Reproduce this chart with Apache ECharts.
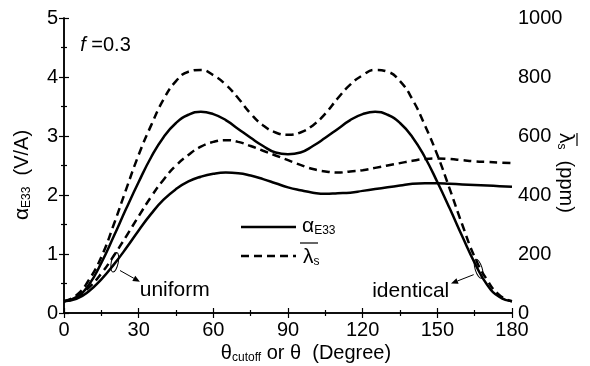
<!DOCTYPE html>
<html>
<head>
<meta charset="utf-8">
<script src="https://cdn.jsdelivr.net/npm/echarts@6/dist/echarts.min.js"></script>
<style>
html,body{margin:0;padding:0;background:#fff;}
#c{width:590px;height:366px;}
</style>
</head>
<body>
<div id="c"></div>
<script>
// ---- data ----
const theta = [0,5,10,15,20,25,30,35,40,45,50,55,60,65,70,75,80,85,90,95,100,105,110,115,120,125,130,135,140,145,150,155,160,165,170,175,180];
// alpha_E33 (V/A), identical orientation (symmetric)
const alphaIdentical = [0.2,0.27,0.48,0.85,1.3,1.77,2.22,2.64,2.98,3.22,3.36,3.41,3.37,3.27,3.12,2.97,2.83,2.72,2.69,2.72,2.83,2.97,3.12,3.27,3.37,3.41,3.36,3.22,2.98,2.64,2.22,1.77,1.3,0.85,0.48,0.27,0.2];
// alpha_E33 (V/A), uniform (cutoff)
const alphaUniform = [0.2,0.24,0.37,0.57,0.82,1.1,1.4,1.68,1.92,2.1,2.23,2.31,2.36,2.38,2.37,2.33,2.27,2.2,2.13,2.08,2.04,2.02,2.03,2.04,2.07,2.1,2.13,2.16,2.19,2.2,2.2,2.19,2.18,2.17,2.16,2.15,2.14];
// lambda_s (ppm), identical
const lambdaIdentical = [40,60,112,190,300,420,536,636,724,786,818,824,806,774,728,676,636,612,604,612,636,676,728,774,806,824,818,786,724,636,536,420,300,190,112,60,40];
// lambda_s (ppm), uniform
const lambdaUniform = [40,52,86,134,194,260,328,394,452,500,536,564,580,586,580,566,550,534,518,502,488,480,476,480,484,492,500,508,516,522,524,522,518,514,512,510,508];

const xTicks = {min:0, max:180, interval:30};
const yLeft = {min:0, max:5, interval:1};
const yRight = {min:0, max:1000, interval:200};

const FONT = '"Liberation Sans", Arial, Helvetica, sans-serif';
const pairs = (xs, ys) => xs.map((x,i)=>[x, ys[i]]);

const chart = echarts.init(document.getElementById('c'), null, {renderer:'canvas'});

const axisCommon = {
  axisLine:{show:true, lineStyle:{color:'#000', width:1.5}},
  axisTick:{show:true, inside:true, length:5, lineStyle:{color:'#000', width:1.2}},
  minorTick:{show:true, splitNumber:2, length:3, lineStyle:{color:'#000', width:1.2}},
  splitLine:{show:false},
  minorSplitLine:{show:false}
};
const lbl = {color:'#000', fontSize:20, fontFamily:FONT, formatter:v=>String(v)};

const solid = {color:'#000', width:2.5, type:'solid'};
const dashed = {color:'#000', width:2.5, type:[8,5]};

chart.setOption({
  animation:false,
  backgroundColor:'#fff',
  grid:{left:64, right:78, top:18, bottom:53},
  xAxis:[
    Object.assign({type:'value', position:'bottom', min:xTicks.min, max:xTicks.max, interval:xTicks.interval,
      axisLabel:Object.assign({margin:7}, lbl)}, axisCommon),
    Object.assign({type:'value', position:'top', min:xTicks.min, max:xTicks.max, interval:xTicks.interval,
      axisLabel:{show:false}}, axisCommon)
  ],
  yAxis:[
    Object.assign({type:'value', position:'left', min:yLeft.min, max:yLeft.max, interval:yLeft.interval,
      axisLabel:Object.assign({margin:6}, lbl)}, axisCommon),
    Object.assign({type:'value', position:'right', min:yRight.min, max:yRight.max, interval:yRight.interval,
      axisLabel:Object.assign({margin:6}, lbl)}, axisCommon)
  ],
  series:[
    {type:'line', name:'alphaIdentical', xAxisIndex:0, yAxisIndex:0, data:pairs(theta, alphaIdentical), smooth:true, showSymbol:false, symbol:'none', lineStyle:solid},
    {type:'line', name:'alphaUniform', xAxisIndex:0, yAxisIndex:0, data:pairs(theta, alphaUniform), smooth:true, showSymbol:false, symbol:'none', lineStyle:solid},
    {type:'line', name:'lambdaIdentical', xAxisIndex:0, yAxisIndex:1, data:pairs(theta, lambdaIdentical), smooth:true, showSymbol:false, symbol:'none', lineStyle:dashed},
    {type:'line', name:'lambdaUniform', xAxisIndex:0, yAxisIndex:1, data:pairs(theta, lambdaUniform), smooth:true, showSymbol:false, symbol:'none', lineStyle:dashed}
  ]
});

function P(x, y){ return chart.convertToPixel({xAxisIndex:0, yAxisIndex:0}, [x, y]); }

function arrow(from, to, id){
  const dx = to[0]-from[0], dy = to[1]-from[1];
  const L = Math.sqrt(dx*dx+dy*dy), ux = dx/L, uy = dy/L;
  const hl = 7, hw = 3;
  const bx = to[0]-ux*hl, by = to[1]-uy*hl;
  return [
    {type:'line', id:id+'l', shape:{x1:from[0], y1:from[1], x2:bx, y2:by}, style:{stroke:'#000', lineWidth:1}},
    {type:'polygon', id:id+'h', shape:{points:[[to[0],to[1]],[bx-uy*hw, by+ux*hw],[bx+uy*hw, by-ux*hw]]}, style:{fill:'#000'}}
  ];
}

const e1 = P(20.4, 0.86), e2 = P(166.6, 0.75);
const a1s = P(22.5, 0.72), a1e = P(30.5, 0.53);
const a2s = P(164.6, 0.65), a2e = P(155.5, 0.50);
const uni = P(44.5, 0.39), ide = P(139.3, 0.37);
const fpos = P(6.5, 4.53);

const sub = {fontSize:12, fontFamily:FONT, fill:'#000', verticalAlign:'bottom', padding:[10,0,0,0]};
const big = {fontSize:21, fontFamily:FONT, fill:'#000'};
const g = [
  // axis titles
  {type:'text', x:22, y:175, rotation:Math.PI/2,
    style:{text:'{a|α}{s|E33}{n|  (V/A)}', textAlign:'center', textVerticalAlign:'middle',
      rich:{a:big, s:sub, n:{fontSize:20, fontFamily:FONT, fill:'#000'}}}},
  {type:'text', x:566, y:133, rotation:-Math.PI/2,
    style:{text:'{a|λ}{s|s}{n|  (ppm)}', textAlign:'left', textVerticalAlign:'middle',
      rich:{a:big, s:sub, n:{fontSize:20, fontFamily:FONT, fill:'#000'}}}},
  {type:'line', shape:{x1:577, y1:133, x2:577, y2:146}, style:{stroke:'#000', lineWidth:1.2}},
  {type:'text', x:306, y:353,
    style:{text:'{a|θ}{s|cutoff}{n| or θ  (Degree)}', textAlign:'center', textVerticalAlign:'middle',
      rich:{a:{fontSize:20, fontFamily:FONT, fill:'#000'}, s:sub, n:{fontSize:20, fontFamily:FONT, fill:'#000'}}}},
  // f = 0.3
  {type:'text', x:fpos[0], y:fpos[1],
    style:{text:'{i|f}{n| =0.3}', textAlign:'left', textVerticalAlign:'middle',
      rich:{i:{fontSize:20, fontStyle:'italic', fontFamily:FONT, fill:'#000'}, n:{fontSize:20, fontFamily:FONT, fill:'#000'}}}},
  // legend
  {type:'line', shape:{x1:241, y1:227, x2:296, y2:227}, style:{stroke:'#000', lineWidth:2.5}},
  {type:'line', shape:{x1:241, y1:256, x2:296, y2:256}, style:{stroke:'#000', lineWidth:2.5, lineDash:[8,5]}},
  {type:'text', x:302, y:226,
    style:{text:'{a|α}{s|E33}', textAlign:'left', textVerticalAlign:'middle',
      rich:{a:big, s:sub}}},
  {type:'line', shape:{x1:300, y1:243, x2:318, y2:243}, style:{stroke:'#000', lineWidth:1.2}},
  {type:'text', x:303, y:257,
    style:{text:'{a|λ}{s|s}', textAlign:'left', textVerticalAlign:'middle',
      rich:{a:big, s:sub}}},
  // annotations
  {type:'ellipse', shape:{cx:e1[0], cy:e1[1], rx:3.5, ry:10}, rotation:-0.2, originX:e1[0], originY:e1[1],
    style:{fill:'none', stroke:'#000', lineWidth:1}},
  {type:'ellipse', shape:{cx:e2[0], cy:e2[1], rx:3.5, ry:10}, rotation:0.3, originX:e2[0], originY:e2[1],
    style:{fill:'none', stroke:'#000', lineWidth:1}},
  {type:'text', x:uni[0], y:uni[1], style:{text:'uniform', font:'21px '+FONT, fill:'#000', textAlign:'center', textVerticalAlign:'middle'}},
  {type:'text', x:ide[0], y:ide[1], style:{text:'identical', font:'21px '+FONT, fill:'#000', textAlign:'center', textVerticalAlign:'middle'}}
].concat(arrow(a1s, a1e, 'ar1')).concat(arrow(a2s, a2e, 'ar2'));

chart.setOption({graphic:{elements:g}});
</script>
</body>
</html>
